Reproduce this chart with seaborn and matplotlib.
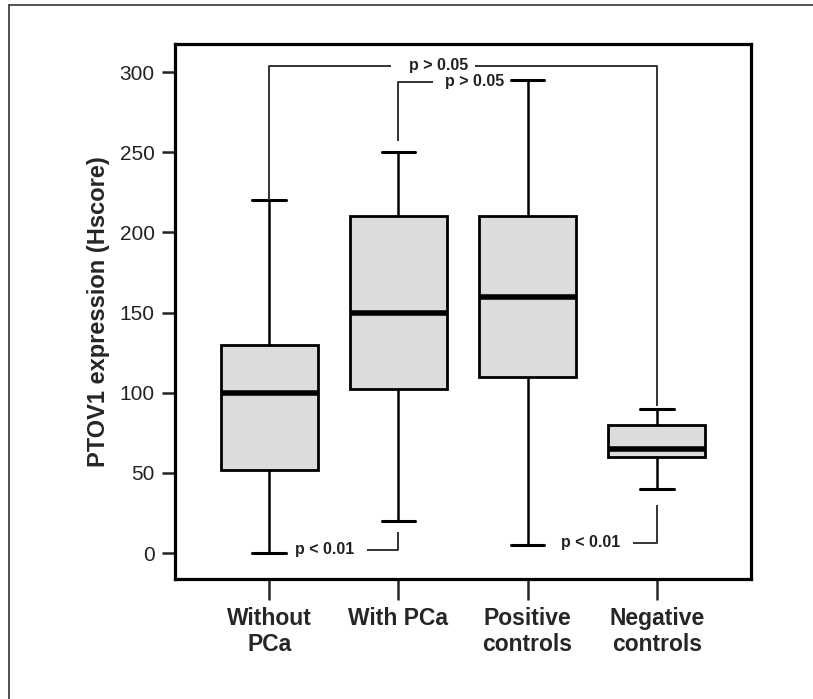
import matplotlib
matplotlib.use("Agg")
import matplotlib.pyplot as plt
import seaborn as sns
import pandas as pd
from matplotlib.lines import Line2D

# Five-number summaries (min, Q1, median, Q3, max)
groups = ["Without\nPCa", "With PCa", "Positive\ncontrols", "Negative\ncontrols"]
without_pca = [0, 52, 100, 130, 220]
with_pca = [20, 102, 150, 210, 250]
positive_ctrl = [5, 110, 160, 210, 295]
negative_ctrl = [40, 60, 65, 80, 90]
y_ticks = [0, 50, 100, 150, 200, 250, 300]

# significance annotations: (text, x, y)
p_labels = [("p > 0.05", 1.31, 304), ("p > 0.05", 1.59, 294),
            ("p < 0.01", 0.43, 2), ("p < 0.01", 2.49, 6.5)]

sns.set_theme(style="white")
plt.rcParams["font.family"] = ["Liberation Sans", "DejaVu Sans"]

rows = []
for g, vals in zip(groups, [without_pca, with_pca, positive_ctrl, negative_ctrl]):
    for v in vals:
        rows.append({"Group": g, "Hscore": v})
df = pd.DataFrame(rows)

fig = plt.figure(figsize=(8.13, 6.99), dpi=100)
ax = fig.add_axes([175 / 813, 1 - 579 / 699, (751 - 175) / 813, (579 - 44) / 699])

sns.boxplot(data=df, x="Group", y="Hscore", order=groups, ax=ax,
            whis=(0, 100), width=0.75, color="#dcdcdc", saturation=1,
            linecolor="black", linewidth=2.0, capwidths=0.26,
            medianprops={"linewidth": 4.0, "color": "black"},
            whiskerprops={"linewidth": 1.8}, capprops={"linewidth": 2.2})

ax.set_xlim(-0.73, 3.73)
ax.set_ylim(-16.2, 317.5)
ax.set_yticks(y_ticks)
ax.set_ylabel("PTOV1 expression (Hscore)", fontsize=17, fontweight="bold", labelpad=7)
ax.set_xlabel("")
ax.tick_params(axis="y", direction="out", length=9.5, width=1.8, labelsize=15,
               left=True, pad=5, colors="#222222")
ax.tick_params(axis="x", direction="out", length=15, width=1.8, labelsize=16.5,
               bottom=True, pad=5)
for t in ax.get_xticklabels():
    t.set_fontweight("bold")
for s in ax.spines.values():
    s.set_linewidth(2.3)
    s.set_color("black")

br = dict(color="#333333", linewidth=1.4, solid_capstyle="butt")
# top bracket: Without PCa vs Negative controls
ax.plot([0, 0, 0.94], [220, 304, 304], **br)
ax.plot([1.59, 3.0, 3.0], [304, 304, 92], **br)
# second bracket: With PCa vs Positive controls
ax.plot([1.0, 1.0, 1.27], [257, 294, 294], **br)
# lower brackets
ax.plot([0.76, 1.0, 1.0], [2, 2, 13], **br)
ax.plot([2.82, 3.0, 3.0], [6.5, 6.5, 30], **br)

for txt, x, y in p_labels:
    ax.text(x, y, txt, ha="center", va="center", fontsize=11.5,
            fontweight="bold", color="#222222")

# outer frame of the figure
fig.add_artist(Line2D([9 / 813, 9 / 813], [0, 1 - 5 / 699], color="#333333",
                      linewidth=1.2, transform=fig.transFigure))
fig.add_artist(Line2D([9 / 813, 1], [1 - 5 / 699, 1 - 5 / 699], color="#333333",
                      linewidth=1.2, transform=fig.transFigure))

fig.savefig("out.png", dpi=100)
